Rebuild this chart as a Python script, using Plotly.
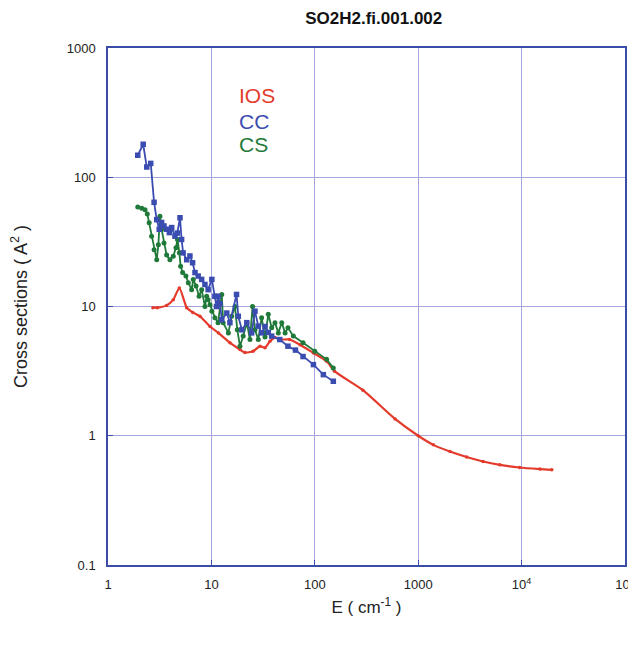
import plotly.graph_objects as go

# ---- data ----
ios_E = [2.72, 3.0, 3.69, 4.28, 4.9, 5.77, 6.6, 7.76, 9.7, 11.7, 15.1, 18.9, 21.1, 25.3, 29.5, 33.0,
         36.8, 41.2, 45.8, 57, 72, 97, 130, 155, 292, 597, 1000, 1400, 2030, 2940, 4240, 6160,
         9560, 15070, 19600]
ios_s = [9.8, 9.8, 10.2, 11.3, 13.9, 9.8, 9.0, 8.4, 7.0, 6.25, 5.25, 4.64, 4.4, 4.5, 4.93, 4.8,
         5.38, 5.75, 5.55, 5.55, 5.06, 4.37, 3.77, 3.16, 2.25, 1.35, 1.0, 0.85, 0.755, 0.684, 0.632, 0.596,
         0.568, 0.552, 0.545]

cc_E = [1.94, 2.19, 2.37, 2.59, 2.79, 2.96, 3.13, 3.30, 3.48, 3.69, 3.92, 4.13, 4.44, 4.68, 4.97,
        5.15, 5.33, 5.77, 6.20, 6.58, 6.94, 7.45, 8.05, 8.66, 9.30, 10.1, 10.8, 11.2, 11.6, 12.1, 12.6,
        14.1, 15.1, 17.5, 18.2, 19.7, 22.0, 24.5, 26.4, 28.4, 30.6, 33.0, 35.5, 38.3, 45.8, 55, 65, 77,
        97, 121, 151]
cc_s = [148, 180, 120, 128, 64, 47, 39.6, 44.7, 42, 39.6, 37.3, 40.8, 35, 37, 48.6,
        33, 26, 23, 24.6, 21.8, 18.3, 17.2, 16.2, 14.8, 13.5, 16.2, 12, 10.0, 12.0, 10.5, 7.9,
        8.9, 7.5, 12.4, 8.4, 6.6, 7.5, 6.25, 9.2, 7.05, 6.25, 7.0, 6.3, 5.9, 5.55, 4.93, 4.6, 4.1,
        3.55, 2.97, 2.64]

cs_E = [1.94, 2.12, 2.28, 2.40, 2.50, 2.64, 2.79, 2.96, 3.07, 3.18, 3.30, 3.48, 3.69, 3.97, 4.28,
        4.54, 4.70, 4.90, 5.04, 5.27, 5.67, 5.98, 6.44, 6.68, 7.10, 7.60, 8.05, 8.66, 9.0, 9.3, 9.7,
        10.1, 10.8, 11.6, 12.6, 13.0, 14.6, 15.7, 16.9, 17.8, 18.9, 20.3, 22.0, 23.6, 25.0, 26.4,
        28.4, 30.6, 33.0, 35.5, 38.3, 41.2, 44.4, 47.9, 51.6, 55, 62, 77, 100, 130, 151]
cs_s = [58.9, 57.5, 56, 52, 44.5, 35, 27.5, 23, 30, 50, 39.5, 31, 25, 23, 24.5,
        28.5, 33, 26, 20.5, 18.3, 17.2, 15.3, 13.5, 16.2, 14.4, 12, 13.5, 10, 12, 11.3, 10.3,
        9.2, 8.2, 7.5, 12.4, 7.5, 6.25, 8.4, 10, 6.6, 4.93, 5.9, 7.5, 5.55, 10, 6.6,
        5.55, 8.2, 5.8, 8.7, 6.85, 7.5, 6.25, 7.5, 6.25, 6.85, 5.9, 5.25, 4.5, 3.9, 3.35]

x_tickvals = [1, 10, 100, 1000, 1e4, 1e5]
x_ticktext = ["1", "10", "100", "1000", "10<sup>4</sup>", "10<sup>5</sup>"]
y_tickvals = [0.1, 1, 10, 100, 1000]
y_ticktext = ["0.1", "1", "10", "100", "1000"]

RED = "#e43a2c"
BLUE = "#3b4cb0"
GREEN = "#1f7a3a"
GRID = "#a4a6dc"
FRAME = "#3b4ba8"
FONT = "Liberation Sans, Arial, sans-serif"

fig = go.Figure()
fig.add_trace(go.Scatter(x=ios_E, y=ios_s, mode="lines+markers", name="IOS",
                         line=dict(color=RED, width=2.2, shape="spline", smoothing=0.6),
                         marker=dict(color=RED, size=3.5, symbol="circle")))
fig.add_trace(go.Scatter(x=cs_E, y=cs_s, mode="lines+markers", name="CS",
                         line=dict(color=GREEN, width=1.8),
                         marker=dict(color=GREEN, size=5, symbol="circle")))
fig.add_trace(go.Scatter(x=cc_E, y=cc_s, mode="lines+markers", name="CC",
                         line=dict(color=BLUE, width=1.8),
                         marker=dict(color=BLUE, size=5.5, symbol="square")))

for txt, yy, col in [("IOS", 0.909, RED), ("CC", 0.857, BLUE), ("CS", 0.814, GREEN)]:
    fig.add_annotation(text=txt, xref="paper", yref="paper", x=0.25, y=yy,
                       xanchor="left", yanchor="middle", showarrow=False,
                       font=dict(family=FONT, size=21, color=col))

axis_common = dict(type="log", showgrid=True, gridcolor=GRID, gridwidth=1,
                   showline=True, linecolor=FRAME, linewidth=1.5, mirror=True,
                   zeroline=False, ticks="inside", ticklen=5, tickcolor=FRAME,
                   automargin=False, ticklabeloverflow="allow",
                   tickfont=dict(family=FONT, size=13, color="#222222"))

fig.update_xaxes(range=[0, 5], tickmode="array", tickvals=x_tickvals, ticktext=x_ticktext,
                 ticklabelstandoff=7,
                 title=dict(text="E ( cm<sup>-1</sup> )", standoff=10,
                            font=dict(family=FONT, size=17, color="#222222")),
                 **axis_common)
fig.update_yaxes(range=[-1, 3], tickmode="array", tickvals=y_tickvals, ticktext=y_ticktext,
                 ticklabelstandoff=8,
                 title=dict(text="Cross sections ( A<sup>2</sup> )", standoff=36,
                            font=dict(family=FONT, size=18, color="#222222")),
                 **axis_common)

# page body adds an 8px margin, so the figure is drawn smaller with shifted margins
fig.update_layout(
    width=628, height=628,
    margin=dict(l=100, r=11, t=40, b=71),
    paper_bgcolor="white", plot_bgcolor="white",
    showlegend=False,
    title=dict(text="<b>SO2H2.fi.001.002</b>", x=0.514, xref="paper", xanchor="center",
               y=0.994, yref="container", yanchor="top",
               font=dict(family=FONT, size=17, color="#111111")),
)

fig.write_html("out.html")
